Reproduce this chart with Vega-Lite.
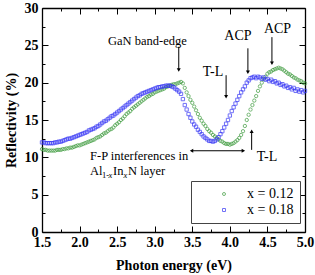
{
"$schema": "https://vega.github.io/schema/vega-lite/v6.json",
"width": 263, "height": 224,
"autosize": {"type": "none"},
"padding": {"left": 42, "top": 8, "right": 10, "bottom": 43},
"background": "white",
"config": {"view": {"stroke": null}, "font": "Liberation Serif",
 "axis": {"grid": false, "domainColor": "black", "domainWidth": 1.3, "tickColor": "black", "tickWidth": 1, "labelFont": "Liberation Serif", "labelFontWeight": "bold", "labelFontSize": 14, "labelColor": "black", "titleFont": "Liberation Serif", "titleFontWeight": "bold", "titleFontSize": 14, "titleColor": "black", "labelFlush": false, "labelOverlap": false}},
"datasets": {
"pts": [
{"E":1.500,"R":11.1,"s":"x = 0.12"},{"E":1.525,"R":11.0,"s":"x = 0.12"},{"E":1.550,"R":11.0,"s":"x = 0.12"},{"E":1.575,"R":10.9,"s":"x = 0.12"},{"E":1.600,"R":10.9,"s":"x = 0.12"},{"E":1.625,"R":10.9,"s":"x = 0.12"},{"E":1.650,"R":10.9,"s":"x = 0.12"},{"E":1.675,"R":10.9,"s":"x = 0.12"},{"E":1.700,"R":11.0,"s":"x = 0.12"},{"E":1.725,"R":11.0,"s":"x = 0.12"},
{"E":1.750,"R":11.0,"s":"x = 0.12"},{"E":1.775,"R":11.1,"s":"x = 0.12"},{"E":1.800,"R":11.1,"s":"x = 0.12"},{"E":1.825,"R":11.2,"s":"x = 0.12"},{"E":1.850,"R":11.2,"s":"x = 0.12"},{"E":1.875,"R":11.3,"s":"x = 0.12"},{"E":1.900,"R":11.3,"s":"x = 0.12"},{"E":1.925,"R":11.4,"s":"x = 0.12"},{"E":1.950,"R":11.5,"s":"x = 0.12"},{"E":1.975,"R":11.6,"s":"x = 0.12"},
{"E":2.000,"R":11.6,"s":"x = 0.12"},{"E":2.025,"R":11.7,"s":"x = 0.12"},{"E":2.050,"R":11.8,"s":"x = 0.12"},{"E":2.075,"R":11.9,"s":"x = 0.12"},{"E":2.100,"R":12.0,"s":"x = 0.12"},{"E":2.125,"R":12.1,"s":"x = 0.12"},{"E":2.150,"R":12.2,"s":"x = 0.12"},{"E":2.175,"R":12.3,"s":"x = 0.12"},{"E":2.200,"R":12.4,"s":"x = 0.12"},{"E":2.225,"R":12.6,"s":"x = 0.12"},
{"E":2.250,"R":12.7,"s":"x = 0.12"},{"E":2.275,"R":12.8,"s":"x = 0.12"},{"E":2.300,"R":13.0,"s":"x = 0.12"},{"E":2.325,"R":13.2,"s":"x = 0.12"},{"E":2.350,"R":13.3,"s":"x = 0.12"},{"E":2.375,"R":13.5,"s":"x = 0.12"},{"E":2.400,"R":13.7,"s":"x = 0.12"},{"E":2.425,"R":13.8,"s":"x = 0.12"},{"E":2.450,"R":14.0,"s":"x = 0.12"},{"E":2.475,"R":14.3,"s":"x = 0.12"},
{"E":2.500,"R":14.5,"s":"x = 0.12"},{"E":2.525,"R":14.7,"s":"x = 0.12"},{"E":2.550,"R":15.0,"s":"x = 0.12"},{"E":2.575,"R":15.2,"s":"x = 0.12"},{"E":2.600,"R":15.5,"s":"x = 0.12"},{"E":2.625,"R":15.8,"s":"x = 0.12"},{"E":2.650,"R":16.0,"s":"x = 0.12"},{"E":2.675,"R":16.2,"s":"x = 0.12"},{"E":2.700,"R":16.5,"s":"x = 0.12"},{"E":2.725,"R":16.7,"s":"x = 0.12"},
{"E":2.750,"R":16.9,"s":"x = 0.12"},{"E":2.775,"R":17.1,"s":"x = 0.12"},{"E":2.800,"R":17.3,"s":"x = 0.12"},{"E":2.825,"R":17.5,"s":"x = 0.12"},{"E":2.850,"R":17.7,"s":"x = 0.12"},{"E":2.875,"R":17.9,"s":"x = 0.12"},{"E":2.900,"R":18.1,"s":"x = 0.12"},{"E":2.925,"R":18.2,"s":"x = 0.12"},{"E":2.950,"R":18.4,"s":"x = 0.12"},{"E":2.975,"R":18.5,"s":"x = 0.12"},
{"E":3.000,"R":18.7,"s":"x = 0.12"},{"E":3.025,"R":18.8,"s":"x = 0.12"},{"E":3.050,"R":18.9,"s":"x = 0.12"},{"E":3.075,"R":19.0,"s":"x = 0.12"},{"E":3.100,"R":19.1,"s":"x = 0.12"},{"E":3.125,"R":19.2,"s":"x = 0.12"},{"E":3.150,"R":19.4,"s":"x = 0.12"},{"E":3.175,"R":19.5,"s":"x = 0.12"},{"E":3.200,"R":19.6,"s":"x = 0.12"},{"E":3.225,"R":19.7,"s":"x = 0.12"},
{"E":3.250,"R":19.8,"s":"x = 0.12"},{"E":3.275,"R":19.8,"s":"x = 0.12"},{"E":3.300,"R":19.9,"s":"x = 0.12"},{"E":3.325,"R":20.0,"s":"x = 0.12"},{"E":3.350,"R":20.1,"s":"x = 0.12"},{"E":3.375,"R":19.9,"s":"x = 0.12"},{"E":3.400,"R":19.3,"s":"x = 0.12"},{"E":3.425,"R":18.7,"s":"x = 0.12"},{"E":3.450,"R":18.2,"s":"x = 0.12"},{"E":3.475,"R":17.7,"s":"x = 0.12"},
{"E":3.500,"R":17.3,"s":"x = 0.12"},{"E":3.525,"R":16.8,"s":"x = 0.12"},{"E":3.550,"R":16.3,"s":"x = 0.12"},{"E":3.575,"R":15.8,"s":"x = 0.12"},{"E":3.600,"R":15.3,"s":"x = 0.12"},{"E":3.625,"R":14.9,"s":"x = 0.12"},{"E":3.650,"R":14.5,"s":"x = 0.12"},{"E":3.675,"R":14.2,"s":"x = 0.12"},{"E":3.700,"R":13.8,"s":"x = 0.12"},{"E":3.725,"R":13.5,"s":"x = 0.12"},
{"E":3.750,"R":13.3,"s":"x = 0.12"},{"E":3.775,"R":13.0,"s":"x = 0.12"},{"E":3.800,"R":12.8,"s":"x = 0.12"},{"E":3.825,"R":12.6,"s":"x = 0.12"},{"E":3.850,"R":12.4,"s":"x = 0.12"},{"E":3.875,"R":12.2,"s":"x = 0.12"},{"E":3.900,"R":12.1,"s":"x = 0.12"},{"E":3.925,"R":11.9,"s":"x = 0.12"},{"E":3.950,"R":11.8,"s":"x = 0.12"},{"E":3.975,"R":11.8,"s":"x = 0.12"},
{"E":4.000,"R":11.7,"s":"x = 0.12"},{"E":4.025,"R":11.8,"s":"x = 0.12"},{"E":4.050,"R":11.9,"s":"x = 0.12"},{"E":4.075,"R":12.1,"s":"x = 0.12"},{"E":4.100,"R":12.3,"s":"x = 0.12"},{"E":4.125,"R":12.6,"s":"x = 0.12"},{"E":4.150,"R":13.0,"s":"x = 0.12"},{"E":4.175,"R":13.5,"s":"x = 0.12"},{"E":4.200,"R":14.2,"s":"x = 0.12"},{"E":4.225,"R":15.0,"s":"x = 0.12"},
{"E":4.250,"R":15.7,"s":"x = 0.12"},{"E":4.275,"R":16.4,"s":"x = 0.12"},{"E":4.300,"R":17.0,"s":"x = 0.12"},{"E":4.325,"R":17.6,"s":"x = 0.12"},{"E":4.350,"R":18.2,"s":"x = 0.12"},{"E":4.375,"R":18.9,"s":"x = 0.12"},{"E":4.400,"R":19.5,"s":"x = 0.12"},{"E":4.425,"R":20.0,"s":"x = 0.12"},{"E":4.450,"R":20.5,"s":"x = 0.12"},{"E":4.475,"R":20.8,"s":"x = 0.12"},
{"E":4.500,"R":21.2,"s":"x = 0.12"},{"E":4.525,"R":21.4,"s":"x = 0.12"},{"E":4.550,"R":21.5,"s":"x = 0.12"},{"E":4.575,"R":21.7,"s":"x = 0.12"},{"E":4.600,"R":21.8,"s":"x = 0.12"},{"E":4.625,"R":21.9,"s":"x = 0.12"},{"E":4.650,"R":22.0,"s":"x = 0.12"},{"E":4.675,"R":21.9,"s":"x = 0.12"},{"E":4.700,"R":21.8,"s":"x = 0.12"},{"E":4.725,"R":21.6,"s":"x = 0.12"},
{"E":4.750,"R":21.4,"s":"x = 0.12"},{"E":4.775,"R":21.2,"s":"x = 0.12"},{"E":4.800,"R":21.1,"s":"x = 0.12"},{"E":4.825,"R":20.9,"s":"x = 0.12"},{"E":4.850,"R":20.7,"s":"x = 0.12"},{"E":4.875,"R":20.6,"s":"x = 0.12"},{"E":4.900,"R":20.4,"s":"x = 0.12"},{"E":4.925,"R":20.3,"s":"x = 0.12"},{"E":4.950,"R":20.2,"s":"x = 0.12"},{"E":4.975,"R":20.0,"s":"x = 0.12"},
{"E":5.000,"R":19.9,"s":"x = 0.12"},
{"E":1.500,"R":12.0,"s":"x = 0.18"},{"E":1.525,"R":12.0,"s":"x = 0.18"},{"E":1.550,"R":11.9,"s":"x = 0.18"},{"E":1.575,"R":11.9,"s":"x = 0.18"},{"E":1.600,"R":11.9,"s":"x = 0.18"},{"E":1.625,"R":11.9,"s":"x = 0.18"},{"E":1.650,"R":11.9,"s":"x = 0.18"},{"E":1.675,"R":12.0,"s":"x = 0.18"},{"E":1.700,"R":12.0,"s":"x = 0.18"},{"E":1.725,"R":12.1,"s":"x = 0.18"},
{"E":1.750,"R":12.1,"s":"x = 0.18"},{"E":1.775,"R":12.2,"s":"x = 0.18"},{"E":1.800,"R":12.3,"s":"x = 0.18"},{"E":1.825,"R":12.4,"s":"x = 0.18"},{"E":1.850,"R":12.5,"s":"x = 0.18"},{"E":1.875,"R":12.5,"s":"x = 0.18"},{"E":1.900,"R":12.6,"s":"x = 0.18"},{"E":1.925,"R":12.7,"s":"x = 0.18"},{"E":1.950,"R":12.8,"s":"x = 0.18"},{"E":1.975,"R":12.9,"s":"x = 0.18"},
{"E":2.000,"R":13.0,"s":"x = 0.18"},{"E":2.025,"R":13.1,"s":"x = 0.18"},{"E":2.050,"R":13.2,"s":"x = 0.18"},{"E":2.075,"R":13.3,"s":"x = 0.18"},{"E":2.100,"R":13.4,"s":"x = 0.18"},{"E":2.125,"R":13.6,"s":"x = 0.18"},{"E":2.150,"R":13.7,"s":"x = 0.18"},{"E":2.175,"R":13.8,"s":"x = 0.18"},{"E":2.200,"R":13.9,"s":"x = 0.18"},{"E":2.225,"R":14.1,"s":"x = 0.18"},
{"E":2.250,"R":14.2,"s":"x = 0.18"},{"E":2.275,"R":14.4,"s":"x = 0.18"},{"E":2.300,"R":14.6,"s":"x = 0.18"},{"E":2.325,"R":14.8,"s":"x = 0.18"},{"E":2.350,"R":14.9,"s":"x = 0.18"},{"E":2.375,"R":15.1,"s":"x = 0.18"},{"E":2.400,"R":15.3,"s":"x = 0.18"},{"E":2.425,"R":15.5,"s":"x = 0.18"},{"E":2.450,"R":15.6,"s":"x = 0.18"},{"E":2.475,"R":15.8,"s":"x = 0.18"},
{"E":2.500,"R":16.0,"s":"x = 0.18"},{"E":2.525,"R":16.2,"s":"x = 0.18"},{"E":2.550,"R":16.4,"s":"x = 0.18"},{"E":2.575,"R":16.6,"s":"x = 0.18"},{"E":2.600,"R":16.8,"s":"x = 0.18"},{"E":2.625,"R":17.0,"s":"x = 0.18"},{"E":2.650,"R":17.2,"s":"x = 0.18"},{"E":2.675,"R":17.4,"s":"x = 0.18"},{"E":2.700,"R":17.6,"s":"x = 0.18"},{"E":2.725,"R":17.8,"s":"x = 0.18"},
{"E":2.750,"R":18.0,"s":"x = 0.18"},{"E":2.775,"R":18.2,"s":"x = 0.18"},{"E":2.800,"R":18.3,"s":"x = 0.18"},{"E":2.825,"R":18.5,"s":"x = 0.18"},{"E":2.850,"R":18.6,"s":"x = 0.18"},{"E":2.875,"R":18.7,"s":"x = 0.18"},{"E":2.900,"R":18.8,"s":"x = 0.18"},{"E":2.925,"R":18.9,"s":"x = 0.18"},{"E":2.950,"R":19.0,"s":"x = 0.18"},{"E":2.975,"R":19.1,"s":"x = 0.18"},
{"E":3.000,"R":19.2,"s":"x = 0.18"},{"E":3.025,"R":19.3,"s":"x = 0.18"},{"E":3.050,"R":19.4,"s":"x = 0.18"},{"E":3.075,"R":19.4,"s":"x = 0.18"},{"E":3.100,"R":19.5,"s":"x = 0.18"},{"E":3.125,"R":19.5,"s":"x = 0.18"},{"E":3.150,"R":19.6,"s":"x = 0.18"},{"E":3.175,"R":19.6,"s":"x = 0.18"},{"E":3.200,"R":19.6,"s":"x = 0.18"},{"E":3.225,"R":19.5,"s":"x = 0.18"},
{"E":3.250,"R":19.4,"s":"x = 0.18"},{"E":3.275,"R":19.2,"s":"x = 0.18"},{"E":3.300,"R":19.0,"s":"x = 0.18"},{"E":3.325,"R":18.8,"s":"x = 0.18"},{"E":3.350,"R":18.5,"s":"x = 0.18"},{"E":3.375,"R":17.8,"s":"x = 0.18"},{"E":3.400,"R":17.0,"s":"x = 0.18"},{"E":3.425,"R":16.4,"s":"x = 0.18"},{"E":3.450,"R":15.8,"s":"x = 0.18"},{"E":3.475,"R":15.3,"s":"x = 0.18"},
{"E":3.500,"R":14.8,"s":"x = 0.18"},{"E":3.525,"R":14.4,"s":"x = 0.18"},{"E":3.550,"R":14.1,"s":"x = 0.18"},{"E":3.575,"R":13.7,"s":"x = 0.18"},{"E":3.600,"R":13.4,"s":"x = 0.18"},{"E":3.625,"R":13.1,"s":"x = 0.18"},{"E":3.650,"R":12.8,"s":"x = 0.18"},{"E":3.675,"R":12.6,"s":"x = 0.18"},{"E":3.700,"R":12.4,"s":"x = 0.18"},{"E":3.725,"R":12.2,"s":"x = 0.18"},
{"E":3.750,"R":12.2,"s":"x = 0.18"},{"E":3.775,"R":12.1,"s":"x = 0.18"},{"E":3.800,"R":12.2,"s":"x = 0.18"},{"E":3.825,"R":12.4,"s":"x = 0.18"},{"E":3.850,"R":12.7,"s":"x = 0.18"},{"E":3.875,"R":13.1,"s":"x = 0.18"},{"E":3.900,"R":13.5,"s":"x = 0.18"},{"E":3.925,"R":14.0,"s":"x = 0.18"},{"E":3.950,"R":14.5,"s":"x = 0.18"},{"E":3.975,"R":15.0,"s":"x = 0.18"},
{"E":4.000,"R":15.6,"s":"x = 0.18"},{"E":4.025,"R":16.2,"s":"x = 0.18"},{"E":4.050,"R":16.7,"s":"x = 0.18"},{"E":4.075,"R":17.2,"s":"x = 0.18"},{"E":4.100,"R":17.7,"s":"x = 0.18"},{"E":4.125,"R":18.2,"s":"x = 0.18"},{"E":4.150,"R":18.7,"s":"x = 0.18"},{"E":4.175,"R":19.1,"s":"x = 0.18"},{"E":4.200,"R":19.5,"s":"x = 0.18"},{"E":4.225,"R":20.0,"s":"x = 0.18"},
{"E":4.250,"R":20.3,"s":"x = 0.18"},{"E":4.275,"R":20.6,"s":"x = 0.18"},{"E":4.300,"R":20.7,"s":"x = 0.18"},{"E":4.325,"R":20.8,"s":"x = 0.18"},{"E":4.350,"R":20.6,"s":"x = 0.18"},{"E":4.375,"R":20.8,"s":"x = 0.18"},{"E":4.400,"R":20.7,"s":"x = 0.18"},{"E":4.425,"R":20.5,"s":"x = 0.18"},{"E":4.450,"R":20.7,"s":"x = 0.18"},{"E":4.475,"R":20.4,"s":"x = 0.18"},
{"E":4.500,"R":20.5,"s":"x = 0.18"},{"E":4.525,"R":20.2,"s":"x = 0.18"},{"E":4.550,"R":20.4,"s":"x = 0.18"},{"E":4.575,"R":20.1,"s":"x = 0.18"},{"E":4.600,"R":20.2,"s":"x = 0.18"},{"E":4.625,"R":19.9,"s":"x = 0.18"},{"E":4.650,"R":20.0,"s":"x = 0.18"},{"E":4.675,"R":19.7,"s":"x = 0.18"},{"E":4.700,"R":19.8,"s":"x = 0.18"},{"E":4.725,"R":19.5,"s":"x = 0.18"},
{"E":4.750,"R":19.6,"s":"x = 0.18"},{"E":4.775,"R":19.3,"s":"x = 0.18"},{"E":4.800,"R":19.4,"s":"x = 0.18"},{"E":4.825,"R":19.1,"s":"x = 0.18"},{"E":4.850,"R":19.3,"s":"x = 0.18"},{"E":4.875,"R":18.9,"s":"x = 0.18"},{"E":4.900,"R":19.1,"s":"x = 0.18"},{"E":4.925,"R":18.8,"s":"x = 0.18"},{"E":4.950,"R":19.0,"s":"x = 0.18"},{"E":4.975,"R":18.7,"s":"x = 0.18"},
{"E":5.000,"R":18.9,"s":"x = 0.18"}
],
"arrows": [
{"x":3.32,"y":24.8,"x2":3.32,"y2":21.7},
{"x":4.24,"y":24.6,"x2":4.24,"y2":21.4},
{"x":4.56,"y":26.1,"x2":4.56,"y2":22.6},
{"x":3.95,"y":21.0,"x2":3.95,"y2":18.1},
{"x":4.29,"y":11.0,"x2":4.29,"y2":13.5},
{"x":3.49,"y":10.88,"x2":4.18,"y2":10.88}
],
"heads": [
{"x":3.32,"y":21.7,"dir":"triangle-down"},
{"x":4.24,"y":21.4,"dir":"triangle-down"},
{"x":4.56,"y":22.6,"dir":"triangle-down"},
{"x":3.95,"y":18.1,"dir":"triangle-down"},
{"x":4.29,"y":13.5,"dir":"triangle-up"},
{"x":3.49,"y":10.88,"dir":"triangle-left"},
{"x":4.18,"y":10.88,"dir":"triangle-right"}
],
"bigText": [
{"x":4.108,"y":26.24,"t":"ACP"},
{"x":4.634,"y":27.18,"t":"ACP"},
{"x":3.776,"y":21.49,"t":"T-L"},
{"x":4.494,"y":10.11,"t":"T-L"}
],
"midText": [
{"x":2.378,"y":25.57,"t":"GaN band-edge"},
{"x":2.139,"y":10.17,"t":"F-P interferences in"},
{"x":2.139,"y":8.17,"t":"Al"},
{"x":2.445,"y":8.17,"t":"In"},
{"x":2.645,"y":8.17,"t":"N layer"}
],
"subText": [
{"x":2.30,"y":7.7,"t":"1-"}
],
"subItal": [
{"x":2.385,"y":7.7,"t":"x"},
{"x":2.585,"y":7.7,"t":"x"}
]
},
"layer": [
{
"data": {"name": "pts"},
"mark": {"type": "point", "filled": false, "strokeWidth": 1, "size": 11},
"encoding": {
"x": {"field": "E", "type": "quantitative", "scale": {"domain": [1.5, 5.0], "nice": false, "zero": false},
 "axis": {"orient": "bottom", "title": "Photon energy (eV)", "values": [1.5,1.75,2,2.25,2.5,2.75,3,3.25,3.5,3.75,4,4.25,4.5,4.75,5],
  "tickSize": {"condition": {"test": "abs(datum.value*2 - round(datum.value*2)) < 0.01", "value": -6}, "value": -3},
  "labelExpr": "abs(datum.value*2 - round(datum.value*2)) < 0.01 ? format(datum.value, '.1f') : ''",
  "labelPadding": 9, "titlePadding": 6}},
"y": {"field": "R", "type": "quantitative", "scale": {"domain": [0, 30], "nice": false},
 "axis": {"orient": "left", "title": "Reflectivity (%)", "values": [0,2.5,5,7.5,10,12.5,15,17.5,20,22.5,25,27.5,30],
  "tickSize": {"condition": {"test": "datum.value % 5 == 0", "value": -6}, "value": -3},
  "labelExpr": "datum.value % 5 == 0 ? format(datum.value, 'd') : ''",
  "labelPadding": 10, "titlePadding": 6}},
"color": {"field": "s", "type": "nominal", "scale": {"domain": ["x = 0.12", "x = 0.18"], "range": ["#3a9a3a", "#3535f5"]},
 "legend": {"title": null, "orient": "none", "legendX": 149, "legendY": 173, "strokeColor": "#444", "fillColor": "white", "padding": 6, "symbolOffset": 20, "labelOffset": 16, "labelFont": "Liberation Serif", "labelFontSize": 14, "labelColor": "black", "symbolSize": 9, "symbolStrokeWidth": 1, "rowPadding": 2}},
"shape": {"field": "s", "type": "nominal", "scale": {"domain": ["x = 0.12", "x = 0.18"], "range": ["circle", "square"]}}
}
},
{
"data": {"name": "arrows"},
"mark": {"type": "rule", "color": "black", "strokeWidth": 1},
"encoding": {
"x": {"field": "x", "type": "quantitative",
 "axis": {"orient": "top", "title": null, "labels": false, "values": [1.5,1.75,2,2.25,2.5,2.75,3,3.25,3.5,3.75,4,4.25,4.5,4.75,5],
  "tickSize": {"condition": {"test": "abs(datum.value*2 - round(datum.value*2)) < 0.01", "value": -6}, "value": -3}}},
"y": {"field": "y", "type": "quantitative",
 "axis": {"orient": "right", "title": null, "labels": false, "values": [0,2.5,5,7.5,10,12.5,15,17.5,20,22.5,25,27.5,30],
  "tickSize": {"condition": {"test": "datum.value % 5 == 0", "value": -6}, "value": -3}}},
"x2": {"field": "x2"},
"y2": {"field": "y2"}
}
},
{
"data": {"name": "heads"},
"mark": {"type": "point", "filled": true, "color": "black", "size": 16, "opacity": 1},
"encoding": {
"x": {"field": "x", "type": "quantitative", "axis": null},
"y": {"field": "y", "type": "quantitative", "axis": null},
"shape": {"field": "dir", "type": "nominal", "scale": null}
}
},
{
"data": {"name": "bigText"},
"mark": {"type": "text", "font": "Liberation Serif", "fontSize": 14, "color": "black", "align": "center", "baseline": "middle"},
"encoding": {
"x": {"field": "x", "type": "quantitative", "axis": null},
"y": {"field": "y", "type": "quantitative", "axis": null},
"text": {"field": "t"}
}
},
{
"data": {"name": "midText"},
"mark": {"type": "text", "font": "Liberation Serif", "fontSize": 12.5, "color": "black", "align": "left", "baseline": "middle"},
"encoding": {
"x": {"field": "x", "type": "quantitative", "axis": null},
"y": {"field": "y", "type": "quantitative", "axis": null},
"text": {"field": "t"}
}
},
{
"data": {"name": "subText"},
"mark": {"type": "text", "font": "Liberation Serif", "fontSize": 8.5, "color": "black", "align": "left", "baseline": "middle"},
"encoding": {
"x": {"field": "x", "type": "quantitative", "axis": null},
"y": {"field": "y", "type": "quantitative", "axis": null},
"text": {"field": "t"}
}
},
{
"data": {"name": "subItal"},
"mark": {"type": "text", "font": "Liberation Serif", "fontSize": 8.5, "fontStyle": "italic", "color": "black", "align": "left", "baseline": "middle"},
"encoding": {
"x": {"field": "x", "type": "quantitative", "axis": null},
"y": {"field": "y", "type": "quantitative", "axis": null},
"text": {"field": "t"}
}
}
],
"resolve": {"axis": {"x": "independent", "y": "independent"}}
}
